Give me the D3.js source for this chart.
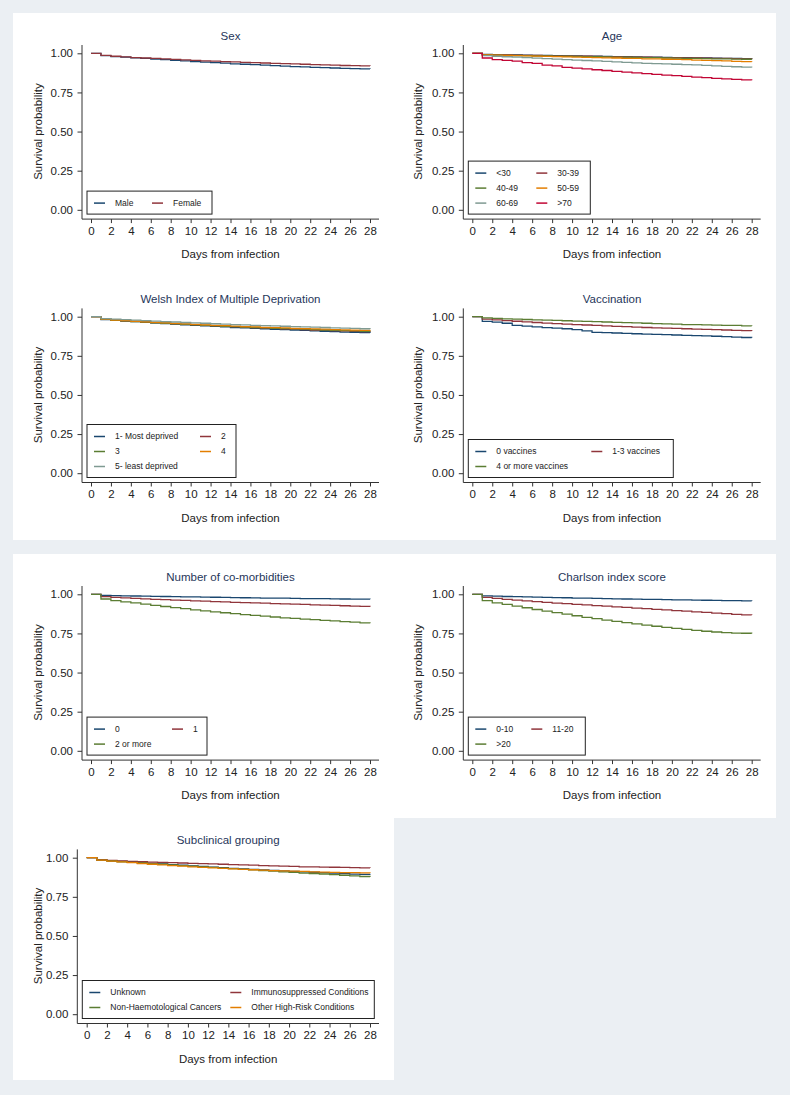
<!DOCTYPE html>
<html>
<head>
<meta charset="utf-8">
<script src="https://cdn.jsdelivr.net/npm/d3@7"></script>
<style>
body { margin: 0; background: #ebeff3; }
svg { display: block; font-family: "Liberation Sans", Arial, sans-serif; }
</style>
</head>
<body>
<svg id="chart" width="790" height="1095"></svg>
<script>
// x categories and ticks
var days = [0,1,2,3,4,5,6,7,8,9,10,11,12,13,14,15,16,17,18,19,20,21,22,23,24,25,26,27,28];
var xTicks = [0,2,4,6,8,10,12,14,16,18,20,22,24,26,28];
var yTicks = [0, 0.25, 0.5, 0.75, 1];

// Sex
var sexLabels = ["Male", "Female"];
var male   = [1,.985,.979,.975,.971,.967,.963,.959,.955,.951,.947,.943,.940,.937,.933,.930,.927,.924,.921,.918,.915,.913,.910,.908,.906,.904,.902,.900,.899];
var female = [1,.987,.981,.977,.973,.970,.967,.964,.961,.958,.955,.952,.950,.947,.945,.942,.940,.938,.936,.934,.932,.930,.928,.926,.924,.922,.921,.920,.919];

// Age
var ageLabels = ["<30", "30-39", "40-49", "50-59", "60-69", ">70"];
var ageU30  = [1,.993,.991,.990,.989,.988,.987,.986,.985,.984,.983,.982,.981,.980,.979,.978,.977,.976,.975,.974,.973,.972,.971,.970,.969,.968,.967,.966,.965];
var age3039 = [1,.992,.990,.989,.988,.987,.986,.985,.984,.983,.982,.981,.980,.979,.978,.977,.976,.975,.974,.973,.972,.971,.970,.969,.968,.967,.966,.964,.963];
var age4049 = [1,.990,.988,.987,.986,.985,.984,.983,.982,.981,.980,.979,.978,.977,.976,.975,.974,.973,.972,.970,.969,.968,.967,.966,.965,.964,.963,.962,.961];
var age5059 = [1,.990,.988,.986,.985,.983,.982,.980,.979,.977,.976,.974,.973,.971,.970,.968,.967,.965,.964,.962,.961,.959,.957,.955,.953,.951,.949,.947,.946];
var age6069 = [1,.985,.981,.978,.975,.972,.969,.966,.963,.960,.957,.954,.951,.948,.945,.942,.939,.936,.934,.932,.930,.928,.926,.923,.920,.917,.914,.912,.910];
var age70   = [1,.970,.960,.955,.950,.940,.935,.925,.920,.910,.905,.900,.895,.890,.885,.880,.875,.870,.865,.860,.857,.853,.848,.845,.840,.837,.833,.830,.828];

// Welsh Index of Multiple Deprivation
var wimdLabels = ["1- Most deprived", "2", "3", "4", "5- least deprived"];
var wimd1 = [1,.982,.976,.972,.968,.964,.960,.956,.952,.948,.944,.941,.938,.935,.931,.928,.925,.922,.919,.917,.914,.912,.909,.907,.905,.902,.900,.898,.896];
var wimd2 = [1,.984,.978,.974,.970,.966,.962,.958,.955,.951,.948,.945,.942,.939,.936,.933,.930,.927,.925,.922,.920,.918,.915,.913,.911,.909,.907,.905,.903];
var wimd3 = [1,.983,.977,.973,.969,.965,.961,.958,.954,.951,.948,.945,.942,.939,.936,.934,.931,.929,.926,.924,.922,.920,.917,.915,.913,.911,.909,.907,.905];
var wimd4 = [1,.984,.979,.975,.971,.967,.964,.960,.957,.954,.951,.948,.945,.943,.940,.937,.935,.932,.930,.928,.926,.924,.922,.920,.918,.916,.914,.912,.910];
var wimd5 = [1,.988,.984,.981,.978,.975,.972,.969,.966,.963,.960,.958,.955,.953,.950,.948,.945,.943,.941,.939,.937,.935,.933,.931,.929,.927,.925,.923,.921];

// Vaccination
var vaccLabels = ["0 vaccines", "1-3 vaccines", "4 or more vaccines"];
var vacc0  = [1,.970,.965,.958,.945,.940,.935,.930,.927,.923,.918,.910,.900,.898,.896,.893,.891,.889,.887,.885,.883,.881,.879,.877,.875,.873,.870,.867,.866];
var vacc13 = [1,.985,.980,.975,.971,.967,.963,.959,.956,.953,.950,.947,.944,.941,.938,.936,.933,.931,.929,.927,.925,.923,.921,.919,.917,.915,.913,.911,.909];
var vacc4  = [1,.992,.989,.986,.984,.982,.980,.978,.976,.974,.972,.970,.968,.966,.964,.962,.960,.958,.956,.954,.952,.950,.949,.948,.946,.945,.944,.942,.941];

// Number of co-morbidities
var comorbLabels = ["0", "1", "2 or more"];
var comorb0 = [1,.993,.991,.990,.989,.988,.987,.986,.985,.984,.983,.982,.981,.980,.979,.978,.977,.976,.975,.975,.974,.973,.972,.972,.971,.970,.969,.969,.968];
var comorb1 = [1,.985,.980,.977,.974,.971,.968,.966,.963,.961,.958,.956,.953,.951,.949,.947,.945,.943,.941,.939,.937,.935,.933,.931,.929,.927,.925,.923,.921];
var comorb2 = [1,.970,.960,.952,.945,.937,.929,.922,.915,.908,.901,.894,.888,.882,.876,.870,.865,.860,.855,.850,.846,.842,.838,.834,.830,.826,.822,.818,.815];

// Charlson index score
var charlLabels = ["0-10", "11-20", ">20"];
var charl010  = [1,.990,.988,.986,.985,.983,.982,.980,.979,.978,.976,.975,.974,.972,.971,.970,.969,.968,.967,.966,.965,.964,.963,.962,.961,.960,.959,.958,.957];
var charl1120 = [1,.980,.974,.968,.963,.958,.953,.948,.944,.940,.936,.932,.928,.924,.920,.916,.912,.908,.904,.900,.896,.892,.888,.884,.880,.876,.872,.869,.868];
var charl20   = [1,.960,.945,.935,.925,.914,.903,.893,.883,.873,.863,.853,.844,.835,.827,.819,.811,.803,.796,.789,.782,.776,.770,.764,.759,.755,.752,.751,.750];

// Subclinical grouping
var subLabels = ["Unknown", "Immunosuppressed Conditions", "Non-Haemotological Cancers", "Other High-Risk Conditions"];
var subUnknown = [1,.985,.980,.976,.972,.968,.964,.960,.956,.952,.948,.944,.940,.936,.932,.928,.925,.922,.919,.916,.913,.910,.907,.904,.901,.898,.895,.893,.891];
var subImmuno  = [1,.987,.983,.980,.977,.974,.972,.970,.968,.966,.964,.962,.960,.958,.956,.954,.952,.950,.948,.946,.944,.942,.941,.940,.939,.938,.937,.935,.934];
var subCancer  = [1,.985,.979,.974,.970,.966,.962,.958,.954,.950,.946,.942,.938,.934,.930,.926,.922,.918,.914,.910,.906,.902,.899,.896,.892,.888,.884,.880,.876];
var subOther   = [1,.984,.978,.973,.968,.963,.958,.954,.950,.946,.942,.938,.935,.932,.929,.926,.923,.920,.918,.916,.914,.912,.910,.908,.906,.905,.904,.903,.902];

// stata s2color-ish palette
var navy = "#1a476f", maroon = "#90353b", green = "#5b7d33", orange = "#e37e00", teal = "#7f9a92", cranberry = "#c10534";

var cols = [
    {ax: 82, x0: 91, x1: 370, yt: 37.7},
    {ax: 463.3, x0: 472.3, x1: 751.7, yt: 418},
    {ax: 77.3, x0: 86.7, x1: 370, yt: 37.7}   // last panel is a bit wider
];
var rows = [53.3, 316.7, 594.3, 857.7];   // y of 1.00 in each row
var plotH = 156.5;

var panels = [
    {title: "Sex", labels: sexLabels, series: [male, female], colors: [navy, maroon], col: 0, row: 0, col2: 65, lw: 125},
    {title: "Age", labels: ageLabels, series: [ageU30, age3039, age4049, age5059, age6069, age70],
        colors: [navy, maroon, green, orange, teal, cranberry], col: 1, row: 0, col2: 68, lw: 122},
    {title: "Welsh Index of Multiple Deprivation", labels: wimdLabels, series: [wimd1, wimd2, wimd3, wimd4, wimd5],
        colors: [navy, maroon, green, orange, teal], col: 0, row: 1, col2: 113, lw: 149},
    {title: "Vaccination", labels: vaccLabels, series: [vacc0, vacc13, vacc4], colors: [navy, maroon, green], col: 1, row: 1, col2: 123, lw: 205},
    {title: "Number of co-morbidities", labels: comorbLabels, series: [comorb0, comorb1, comorb2], colors: [navy, maroon, green], col: 0, row: 2, col2: 85, lw: 120},
    {title: "Charlson index score", labels: charlLabels, series: [charl010, charl1120, charl20], colors: [navy, maroon, green], col: 1, row: 2, col2: 63, lw: 117},
    {title: "Subclinical grouping", labels: subLabels, series: [subUnknown, subImmuno, subCancer, subOther],
        colors: [navy, maroon, green, orange], col: 2, row: 3, col2: 148, lw: 292}
];

var svg = d3.select("#chart");

// white backgrounds of the figure blocks
svg.append("rect").attr("x", 13).attr("y", 13).attr("width", 763).attr("height", 527).attr("fill", "#fff");
svg.append("rect").attr("x", 13).attr("y", 554).attr("width", 763).attr("height", 264).attr("fill", "#fff");
svg.append("rect").attr("x", 13).attr("y", 817).attr("width", 381).attr("height", 263).attr("fill", "#fff");

panels.forEach(function(p) {
    var c = cols[p.col];
    var top = rows[p.row];
    var bot = top + plotH;
    var axisY = bot + 9.3;
    var xEnd = c.x1 + 9;
    var mid = (c.ax + xEnd) / 2;

    var x = d3.scaleLinear().domain([0, 28]).range([c.x0, c.x1]);
    var y = d3.scaleLinear().domain([0, 1]).range([bot, top]);

    var g = svg.append("g");

    g.append("text")
        .attr("x", mid).attr("y", top - 17.3).attr("dy", "0.35em")
        .attr("text-anchor", "middle")
        .attr("font-size", 11.5).attr("fill", "#26365a")
        .text(p.title);

    // axes
    var yAxis = g.append("g")
        .attr("transform", "translate(" + c.ax + ",0)")
        .call(d3.axisLeft(y).tickValues(yTicks).tickFormat(d3.format(".2f")).tickSize(4.5).tickPadding(4.5));
    var xAxis = g.append("g")
        .attr("transform", "translate(0," + axisY + ")")
        .call(d3.axisBottom(x).tickValues(xTicks).tickFormat(d3.format("d")).tickSize(4).tickPadding(3.5));
    [yAxis, xAxis].forEach(function(a) {
        a.select(".domain").remove();
        a.selectAll("line").attr("stroke", "#333");
        a.selectAll("text").attr("font-size", 11.5).attr("fill", "#222").attr("font-family", null);
    });
    g.append("line").attr("x1", c.ax).attr("x2", c.ax).attr("y1", top - 8.3).attr("y2", axisY)
        .attr("stroke", "#333").attr("stroke-width", 1);
    g.append("line").attr("x1", c.ax).attr("x2", xEnd).attr("y1", axisY).attr("y2", axisY)
        .attr("stroke", "#333").attr("stroke-width", 1);

    g.append("text")
        .attr("x", mid).attr("y", axisY + 35).attr("dy", "0.35em")
        .attr("text-anchor", "middle").attr("font-size", 11.5).attr("fill", "#222")
        .text("Days from infection");
    g.append("text")
        .attr("transform", "translate(" + c.yt + "," + (top + bot) / 2 + ") rotate(-90)")
        .attr("dy", "0.35em")
        .attr("text-anchor", "middle").attr("font-size", 11.5).attr("fill", "#222")
        .text("Survival probability");

    // KM step curves
    var line = d3.line()
        .x(function(d, i) { return x(days[i]); })
        .y(function(d) { return y(d); })
        .curve(d3.curveStepAfter);
    g.append("g").selectAll("path")
        .data(p.series)
        .enter()
        .append("path")
        .attr("d", line)
        .attr("fill", "none")
        .attr("stroke", function(d, i) { return p.colors[i]; })
        .attr("stroke-width", 1.3);

    // legend
    var nRows = Math.ceil(p.labels.length / 2);
    var lh = 15 * nRows + 8;
    var lx = c.ax + 5, ly = axisY - 5 - lh;
    var leg = g.append("g").attr("transform", "translate(" + lx + "," + ly + ")");
    leg.append("rect").attr("width", p.lw).attr("height", lh)
        .attr("fill", "#fff").attr("stroke", "#222").attr("stroke-width", 1);
    var item = leg.selectAll("g.item")
        .data(p.labels)
        .enter()
        .append("g")
        .attr("class", "item")
        .attr("transform", function(d, i) {
            var cx = (i % 2 === 0) ? 7 : p.col2;
            return "translate(" + cx + "," + (12 + 15 * Math.floor(i / 2)) + ")";
        });
    item.append("line").attr("x1", 0).attr("x2", 11)
        .attr("stroke", function(d, i) { return p.colors[i]; }).attr("stroke-width", 1.5);
    item.append("text").attr("x", 21).attr("dy", "0.35em")
        .attr("font-size", 8.5).attr("fill", "#222")
        .text(function(d) { return d; });
});
</script>
</body>
</html>
